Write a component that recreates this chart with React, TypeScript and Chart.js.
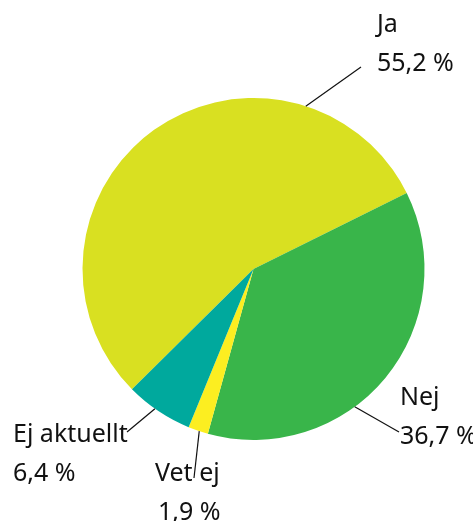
import React, { useEffect, useRef } from "react";
import { Chart, registerables } from "chart.js";

Chart.register(...registerables);

const categories = ["Ja", "Nej", "Vet ej", "Ej aktuellt"];
const values = [55.2, 36.7, 1.9, 6.4];
const valueLabels = ["55,2 %", "36,7 %", "1,9 %", "6,4 %"];
const colors = ["#d9e021", "#39b54a", "#fcee21", "#00a99d"];

// label layout: anchor angle on the arc (deg, canvas), line end, text left x, first baseline
const labelLayout = [
  { angle: -72.2, endX: 361, endY: 67, textX: 377, baseY: 32 },
  { angle: 53.7, endX: 399, endY: 432, textX: 400, baseY: 405 },
  { angle: 108.5, endX: 194, endY: 478, textX: 155, baseY: 481 },
  { angle: 125.2, endX: 127, endY: 432, textX: 13, baseY: 442 },
];
const lineGap = 39;
const FONT = '25px "Noto Sans"';

const leaderPlugin = {
  id: "leaders",
  afterDatasetsDraw(chart: any) {
    const ctx = chart.ctx;
    const meta = chart.getDatasetMeta(0);
    const arc0 = meta.data[0];
    const cx = arc0.x;
    const cy = arc0.y;
    const r = arc0.outerRadius;
    ctx.save();
    categories.forEach((cat, i) => {
      const L = labelLayout[i];
      const a = (L.angle * Math.PI) / 180;
      const sx = cx + r * Math.cos(a);
      const sy = cy + r * Math.sin(a);
      ctx.strokeStyle = "#111";
      ctx.lineWidth = 1.2;
      ctx.beginPath();
      ctx.moveTo(sx, sy);
      ctx.lineTo(L.endX, L.endY);
      ctx.stroke();
      ctx.fillStyle = "#111";
      ctx.font = FONT;
      ctx.textAlign = "left";
      ctx.textBaseline = "alphabetic";
      ctx.fillText(cat, L.textX, L.baseY);
      ctx.fillText(valueLabels[i], L.textX + (i === 2 ? 3 : 0), L.baseY + lineGap);
    });
    ctx.restore();
  },
};

export default function App() {
  const ref = useRef<HTMLCanvasElement | null>(null);
  useEffect(() => {
    document.body.style.margin = "0";
    const chart = new Chart(ref.current!, {
      type: "pie",
      data: {
        labels: categories,
        datasets: [
          {
            data: values,
            backgroundColor: colors,
            borderWidth: 0,
          },
        ],
      },
      options: {
        animation: false,
        responsive: false,
        rotation: 225.3,
        layout: { padding: { left: 82, right: 48, top: 98, bottom: 81 } },
        plugins: {
          legend: { display: false },
          tooltip: { enabled: false },
        },
      },
      plugins: [leaderPlugin],
    });
    return () => chart.destroy();
  }, []);
  return (
    <div style={{ position: "absolute", left: 0, top: 0, width: 473, height: 521, background: "#fff" }}>
      <canvas ref={ref} width={473} height={521} style={{ width: 473, height: 521 }} />
    </div>
  );
}
